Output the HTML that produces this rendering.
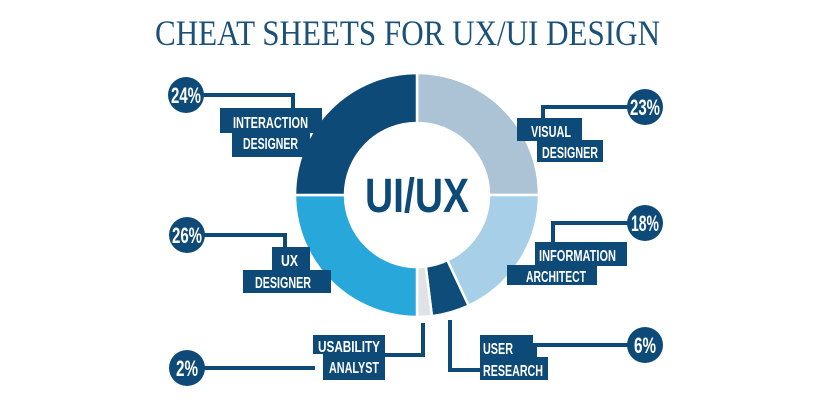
<!DOCTYPE html>
<html><head><meta charset="utf-8"><style>
html,body{margin:0;padding:0;background:#fff;}
svg{display:block;}
.t{font-family:"Liberation Sans Narrow","Liberation Sans",sans-serif;font-weight:bold;fill:#fff;}
</style></head><body>
<svg width="830" height="400" viewBox="0 0 830 400" xmlns="http://www.w3.org/2000/svg">
<rect width="830" height="400" fill="#fff"/>
<text x="155" y="45" textLength="505" lengthAdjust="spacingAndGlyphs" font-family="Liberation Serif,serif" font-size="36" fill="#1b5179">CHEAT SHEETS FOR UX/UI DESIGN</text>

<g stroke="#fff" stroke-width="2.5">
<path d="M417,73 A122,122 0 0 1 539,195 L489,195 A72,72 0 0 0 417,123 Z" fill="#abc3d4"/>
<path d="M539,195 A122,122 0 0 1 468.6,305.6 L447.4,260.3 A72,72 0 0 0 489,195 Z" fill="#a7cfe8"/>
<path d="M468.6,305.6 A122,122 0 0 1 431.9,316.1 L425.8,266.5 A72,72 0 0 0 447.4,260.3 Z" fill="#0e4c7a"/>
<path d="M431.9,316.1 A122,122 0 0 1 417,317 L417,267 A72,72 0 0 0 425.8,266.5 Z" fill="#dfe3e6"/>
<path d="M417,317 A122,122 0 0 1 295,195 L345,195 A72,72 0 0 0 417,267 Z" fill="#27a7da"/>
<path d="M295,195 A122,122 0 0 1 417,73 L417,123 A72,72 0 0 0 345,195 Z" fill="#0d4a78"/>
</g>
<text x="417" y="212" text-anchor="middle" textLength="104" lengthAdjust="spacingAndGlyphs" font-family="Liberation Sans Narrow,Liberation Sans,sans-serif" font-weight="bold" font-size="48" fill="#0d4a78">UI/UX</text>

<g fill="none" stroke="#0d4a78" stroke-width="4">
<polyline points="200,95 293,95 293,110"/>
<polyline points="200,235 285,235 285,249"/>
<polyline points="200,368 315,368"/>
<polyline points="385,355 423,355 423,323"/>
<polyline points="630,107 543,107 543,120"/>
<polyline points="630,223 553,223 553,244"/>
<polyline points="630,345 535,345 535,357"/>
<polyline points="450,320 450,370 482,370"/>
</g>

<g fill="#0d4a78">
<circle cx="186" cy="95" r="18"/>
<circle cx="187" cy="235" r="18"/>
<circle cx="187" cy="368" r="18"/>
<circle cx="645" cy="107" r="18"/>
<circle cx="645" cy="223" r="18"/>
<circle cx="645" cy="345" r="18"/>
<rect x="220" y="108" width="102" height="25"/>
<rect x="232" y="132" width="78" height="25"/>
<rect x="272" y="247" width="38" height="24"/>
<rect x="243" y="270" width="88" height="23"/>
<rect x="313" y="335" width="72" height="19"/>
<rect x="323" y="353" width="62" height="27"/>
<rect x="517" y="118" width="65" height="23"/>
<rect x="537" y="140" width="66" height="22"/>
<rect x="535" y="242" width="92" height="24"/>
<rect x="507" y="265" width="90" height="20"/>
<rect x="480" y="335" width="53" height="23"/>
<rect x="480" y="357" width="68" height="23"/>
</g>

<g class="t" font-size="22" text-anchor="middle">
<text x="186" y="103" textLength="30" lengthAdjust="spacingAndGlyphs">24%</text>
<text x="187" y="243" textLength="30" lengthAdjust="spacingAndGlyphs">26%</text>
<text x="187" y="376" textLength="22" lengthAdjust="spacingAndGlyphs">2%</text>
<text x="645" y="115" textLength="30" lengthAdjust="spacingAndGlyphs">23%</text>
<text x="645" y="231" textLength="28" lengthAdjust="spacingAndGlyphs">18%</text>
<text x="645" y="353" textLength="22" lengthAdjust="spacingAndGlyphs">6%</text>
</g>
<g class="t" font-size="16">
<text x="233" y="128" textLength="75" lengthAdjust="spacingAndGlyphs">INTERACTION</text>
<text x="243" y="149" textLength="55" lengthAdjust="spacingAndGlyphs">DESIGNER</text>
<text x="281" y="266" textLength="17" lengthAdjust="spacingAndGlyphs">UX</text>
<text x="255" y="288" textLength="56" lengthAdjust="spacingAndGlyphs">DESIGNER</text>
<text x="318" y="352" textLength="62" lengthAdjust="spacingAndGlyphs">USABILITY</text>
<text x="329" y="373" textLength="50" lengthAdjust="spacingAndGlyphs">ANALYST</text>
<text x="531" y="137" textLength="40" lengthAdjust="spacingAndGlyphs">VISUAL</text>
<text x="542" y="158" textLength="56" lengthAdjust="spacingAndGlyphs">DESIGNER</text>
<text x="539" y="261" textLength="77" lengthAdjust="spacingAndGlyphs">INFORMATION</text>
<text x="526" y="282" textLength="60" lengthAdjust="spacingAndGlyphs">ARCHITECT</text>
<text x="483" y="354" textLength="30" lengthAdjust="spacingAndGlyphs">USER</text>
<text x="483" y="376" textLength="60" lengthAdjust="spacingAndGlyphs">RESEARCH</text>
</g>
</svg>
</body></html>
